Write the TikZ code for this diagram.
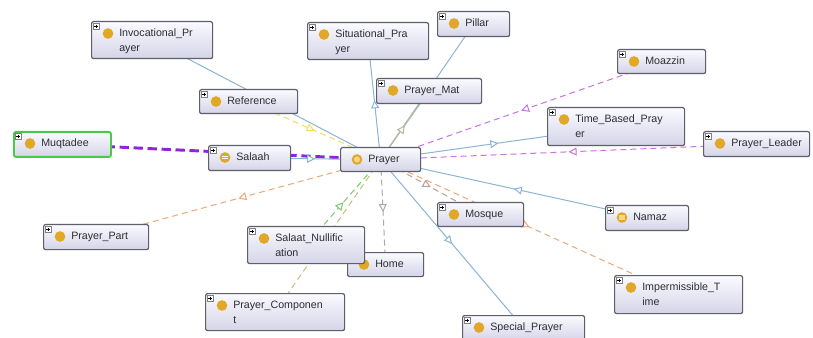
\documentclass[tikz,border=0pt]{standalone}
\usepackage{fontspec}
\setmainfont{Liberation Sans}
\usetikzlibrary{arrows.meta, backgrounds, decorations.markings}
\definecolor{frame}{RGB}{95,95,105}
\definecolor{boxtop}{RGB}{250,250,255}
\definecolor{boxbot}{RGB}{212,212,232}
\definecolor{ink}{RGB}{45,45,50}
\definecolor{gold}{RGB}{225,168,40}
\definecolor{palegold}{RGB}{246,214,130}
\definecolor{focusgreen}{RGB}{70,205,70}
\definecolor{isablue}{RGB}{140,180,215}
\definecolor{refyellow}{RGB}{240,222,90}
\definecolor{deeppurple}{RGB}{145,35,220}
\definecolor{violet}{RGB}{200,115,230}
\definecolor{peach}{RGB}{235,168,120}
\definecolor{leaf}{RGB}{125,200,105}
\definecolor{khaki}{RGB}{200,190,125}
\definecolor{stone}{RGB}{170,170,170}
\definecolor{taupe}{RGB}{180,160,150}
\definecolor{olive}{RGB}{185,185,150}

% box, icon and text of one class
\newcommand{\cls}[7][]{%
  \node[clsbox, #1, minimum width=#5*0.75pt, minimum height=#6*0.75pt] (#3) at (#4) {};
  \node[#2] (#3-i) at ([shift={(17,12.5)}]#3.north west) {};
  \node[clstext] (#3-t) at ([shift={(28,5)}]#3.north west) {\strut #7};}

\begin{document}
\begin{tikzpicture}[x=0.75pt, y=-0.75pt,
    clsbox/.style={rectangle, anchor=north west, rounded corners=1.5pt, draw=frame,
                   line width=0.9pt, top color=boxtop, bottom color=boxbot, inner sep=0pt},
    focus/.style={draw=focusgreen, line width=1.4pt},
    clstext/.style={anchor=north west, align=left, inner sep=0pt, text=ink,
                    font=\fontsize{8}{11.25}\selectfont},
    plusbox/.style={rectangle, draw=gray, fill=white, minimum size=4.5pt, inner sep=0pt,
                    line width=0.4pt, path picture={
                      \draw[black, line width=0.4pt]
                        ([xshift=0.9pt]path picture bounding box.west) -- ([xshift=-0.9pt]path picture bounding box.east)
                        ([yshift=-0.9pt]path picture bounding box.north) -- ([yshift=0.9pt]path picture bounding box.south);}},
    dot/.style={circle, fill=gold, minimum size=8pt, inner sep=0pt},
    ball/.style={dot, label={[plusbox, xshift=-9pt, yshift=5.25pt]center:}},
    ringball/.style={dot, path picture={
                      \fill[palegold] (path picture bounding box.center) circle (2.3pt);}},
    eqball/.style={ball, path picture={
                      \draw[white, line width=0.8pt]
                        ([shift={(-2.2pt,1pt)}]path picture bounding box.center) -- ++(4.4pt,0)
                        ([shift={(-2.2pt,-1pt)}]path picture bounding box.center) -- ++(4.4pt,0);}},
    sqball/.style={ball, path picture={
                      \fill[palegold] ([shift={(-2pt,-2pt)}]path picture bounding box.center) rectangle ++(4pt,4pt);}},
    isa/.style={draw=isablue, line width=0.75pt},
    rel/.style={line width=0.75pt, dash pattern=on 4.5pt off 3pt},
    mid/.style={postaction={decorate, decoration={markings, mark=at position 0.5 with
                  {\arrow{Triangle[fill=white, length=6pt, width=6pt]}}}}},
    midback/.style={postaction={decorate, decoration={markings, mark=at position 0.5 with
                  {\arrowreversed{Triangle[fill=white, length=6pt, width=6pt]}}}}}
]
\useasboundingbox (0,0) rectangle (813,338);

\cls{ball}{invocational}{91,21}{121}{37}{Invocational\_Pr\\ayer}
\cls{ball}{reference}{199,89}{98}{24}{Reference}
\cls[focus]{ball}{muqtadee}{13,131}{97}{25}{Muqtadee}
\cls{eqball}{salaah}{208,145}{82}{25}{Salaah}
\cls{ball}{situational}{307,22}{121}{37}{Situational\_Pra\\yer}
\cls{ball}{pillar}{437,11}{72}{25}{Pillar}
\cls{ball}{mat}{376,78}{105}{25}{Prayer\_Mat}
\cls{ringball}{prayer}{340,147}{80}{24}{Prayer}
\cls{ball}{moazzin}{617,49}{88}{24}{Moazzin}
\cls{ball}{timebased}{547,107}{137}{38}{Time\_Based\_Pray\\er}
\cls{ball}{leader}{703,131}{106}{25}{Prayer\_Leader}
\cls{ball}{part}{43,224}{105}{25}{Prayer\_Part}
\cls{ball}{home}{347,252}{76}{24}{Home}
\cls{ball}{nullification}{247,226}{117}{37}{Salaat\_Nullific\\ation}
\cls{ball}{component}{205,293}{139}{37}{Prayer\_Componen\\t}
\cls{ball}{mosque}{437,202}{86}{24}{Mosque}
\cls{sqball}{namaz}{605,205}{83}{25}{Namaz}
\cls{ball}{impermissible}{614,275}{128}{38}{Impermissible\_T\\ime}
\cls{ball}{special}{462,315}{122}{25}{Special\_Prayer}

\begin{scope}[on background layer]
\fill[white] (0,0) rectangle (813,338);
\draw[isa, mid] (prayer.center) -- (invocational.center);
\draw[rel, draw=refyellow, midback] (prayer.center) -- (reference.center);
\draw[rel, draw=deeppurple, line width=2.2pt, dash pattern=on 7pt off 3.5pt, mid] (prayer.center) -- (muqtadee.center);
\draw[isa, midback] (prayer.center) -- (salaah.center);
\draw[isa, mid] (prayer.center) -- (situational.center);
\draw[isa, mid] (prayer.center) -- (pillar.center);
\draw[draw=olive, line width=0.75pt, mid] (prayer.center) -- (mat.center);
\draw[rel, draw=violet, midback] (prayer.center) -- (moazzin.center);
\draw[isa, mid] (prayer.center) -- (timebased.center);
\draw[rel, draw=violet, midback] (prayer.center) -- (leader.center);
\draw[rel, draw=peach, mid] (prayer.center) -- (part.center);
\draw[rel, draw=leaf, midback] (prayer.center) -- (nullification.center);
\draw[rel, draw=khaki, mid] (prayer.center) -- (component.center);
\draw[rel, draw=stone, mid] (prayer.center) -- (home.center);
\draw[rel, draw=taupe, mid] (prayer.center) -- (mosque.center);
\draw[rel, draw=peach, mid] (prayer.center) -- (impermissible.center);
\draw[isa, midback] (prayer.center) -- (namaz.center);
\draw[isa, mid] (prayer.center) -- (special.center);
\end{scope}
\end{tikzpicture}
\end{document}
